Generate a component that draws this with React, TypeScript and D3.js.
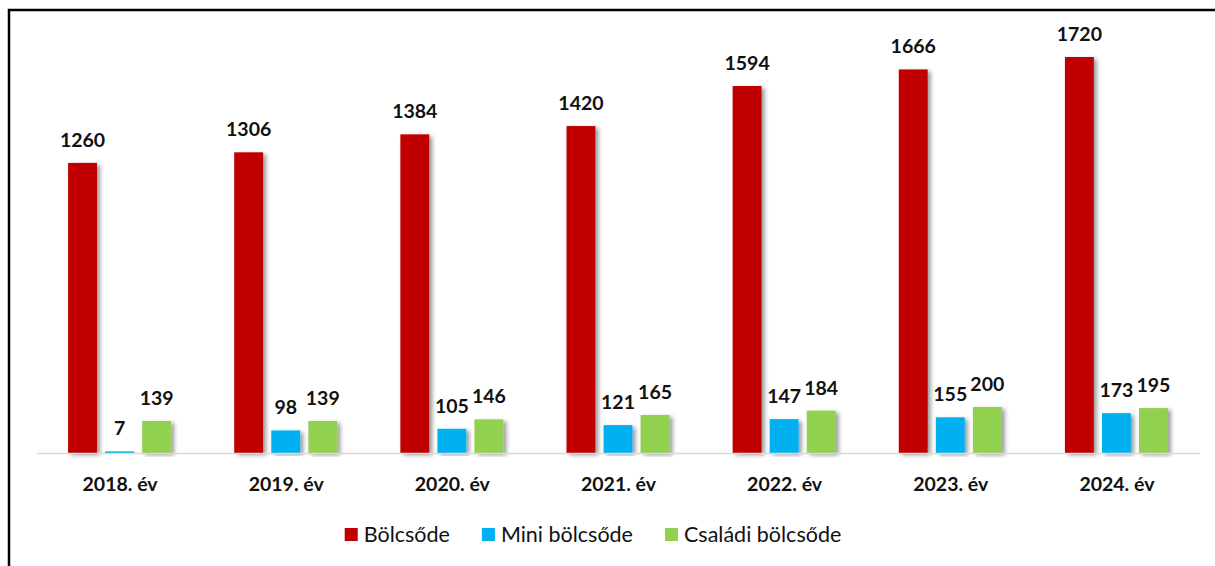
import React, { useEffect, useRef } from 'react'
import * as d3 from 'd3'

const years = ['2018. év', '2019. év', '2020. év', '2021. év', '2022. év', '2023. év', '2024. év']
const seriesNames = ['Bölcsőde', 'Mini bölcsőde', 'Családi bölcsőde']
const bolcsode = [1260, 1306, 1384, 1420, 1594, 1666, 1720]
const mini = [7, 98, 105, 121, 147, 155, 173]
const csaladi = [139, 139, 146, 165, 184, 200, 195]
const colors = ['#C00000', '#00B0F0', '#92D050']

const FONT = 'Lato, "Open Sans", sans-serif'

export default function App() {
  const ref = useRef<SVGSVGElement>(null)

  useEffect(() => {
    const el = ref.current
    if (!el) return
    const svg = d3.select(el)
    svg.selectAll('*').remove()

    const w = 1215, h = 566
    const left = 37, right = 1200, base = 453, top = 57

    const defs = svg.append('defs')
    const f = defs.append('filter').attr('id', 'shadow').attr('x', '-30%').attr('y', '-10%').attr('width', '160%').attr('height', '120%')
    f.append('feDropShadow').attr('dx', 3).attr('dy', 2).attr('stdDeviation', 2)
      .attr('flood-color', '#000').attr('flood-opacity', 0.4)

    // frame (continues beyond right/bottom of picture)
    svg.append('rect').attr('x', 9).attr('y', 10).attr('width', w).attr('height', h + 40)
      .attr('fill', 'none').attr('stroke', '#000').attr('stroke-width', 2.5)

    const x0 = d3.scaleBand().domain(years).range([left, right]).paddingInner(0).paddingOuter(0)
    const x1 = d3.scaleBand().domain(seriesNames).range([x0.bandwidth() / 2 - 52, x0.bandwidth() / 2 + 51]).paddingInner(0.22)
    const y = d3.scaleLinear().domain([0, 1720]).range([base, top])

    const all = [bolcsode, mini, csaladi]
    const rows = years.map((yr, i) => ({ yr, vals: seriesNames.map((s, j) => ({ s, v: all[j][i], c: colors[j] })) }))

    const g = svg.append('g')
    const groups = g.selectAll('g.cat').data(rows).enter().append('g')
      .attr('transform', d => `translate(${x0(d.yr)},0)`)

    groups.selectAll('rect').data(d => d.vals).enter().append('rect')
      .attr('x', d => x1(d.s)!)
      .attr('y', d => y(d.v))
      .attr('width', x1.bandwidth())
      .attr('height', d => base - y(d.v))
      .attr('fill', d => d.c)
      .attr('filter', 'url(#shadow)')

    groups.selectAll('text').data(d => d.vals).enter().append('text')
      .attr('x', d => x1(d.s)! + x1.bandwidth() / 2)
      .attr('y', d => y(d.v) - 16)
      .attr('text-anchor', 'middle')
      .attr('font-family', FONT).attr('font-weight', 700).attr('font-size', 19.5)
      .attr('fill', '#111')
      .text(d => d.v)

    // axis line
    svg.append('line').attr('x1', left).attr('x2', right).attr('y1', base + 0.5).attr('y2', base + 0.5)
      .attr('stroke', '#D9D9D9').attr('stroke-width', 1.5)

    svg.append('g').selectAll('text').data(years).enter().append('text')
      .attr('x', d => x0(d)! + x0.bandwidth() / 2)
      .attr('y', 491)
      .attr('text-anchor', 'middle')
      .attr('font-family', FONT).attr('font-weight', 700).attr('font-size', 19.5)
      .attr('fill', '#111')
      .text(d => d)

    // legend
    const lg = svg.append('g')
    const items = lg.selectAll('g').data(seriesNames).enter().append('g')
    items.append('rect').attr('width', 13).attr('height', 13).attr('y', -14)
      .attr('fill', (d, i) => colors[i])
    items.append('text').attr('x', 19).attr('y', 0)
      .attr('font-family', FONT).attr('font-size', 21.5).attr('fill', '#111')
      .text(d => d)
    let cx = 0
    const widths: number[] = []
    items.each(function () {
      const t = d3.select(this).select('text').node() as SVGTextElement
      widths.push(19 + t.getComputedTextLength())
    })
    const gap = 32
    const total = d3.sum(widths) + gap * (widths.length - 1)
    const startX = 593 - total / 2
    items.attr('transform', (d, i) => {
      const tx = startX + cx
      cx += widths[i] + gap
      return `translate(${tx},${542})`
    })
  }, [])

  return (
    <div style={{ position: 'absolute', left: 0, top: 0 }}>
      <svg ref={ref} width={1215} height={566} style={{ display: 'block', background: '#fff' }} />
    </div>
  )
}
